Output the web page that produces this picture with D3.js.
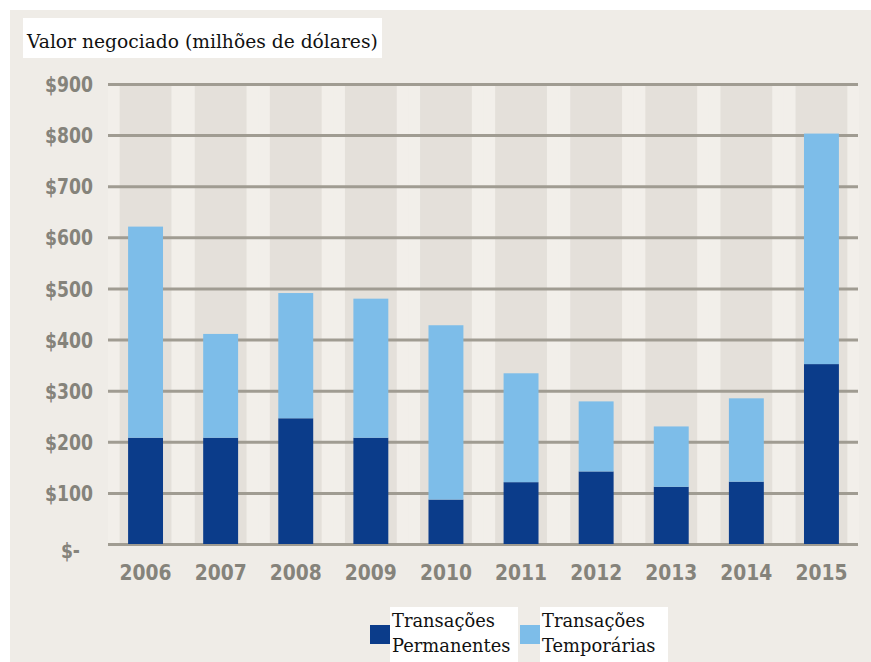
<!DOCTYPE html>
<html><head><meta charset="utf-8">
<script src="https://cdn.jsdelivr.net/npm/d3@7"></script>
<style>
body{margin:0;background:#fff;}
svg{display:block;}
</style></head>
<body>
<svg id="chart" width="871" height="662"></svg>
<script>
const years = ["2006","2007","2008","2009","2010","2011","2012","2013","2014","2015"];
const permanentes = [208, 208, 246, 208, 87, 121, 142, 112, 122, 352];
const temporarias = [413, 203, 245, 272, 341, 213, 137, 118, 163, 451];
const yTicks = [0,100,200,300,400,500,600,700,800,900];
const seriesNames = ["Transações\nPermanentes", "Transações\nTemporárias"];
const titleText = "Valor negociado (milhões de dólares)";

const colors = ["#0b3c8a", "#7dbde9"];
const svg = d3.select("#chart");

function fitWidth(sel, target){
  const w = sel.node().getComputedTextLength();
  const fs = parseFloat(sel.attr("font-size"));
  const nfs = fs*target/w;
  sel.attr("font-size", nfs.toFixed(2));
  return nfs;
}
function condense(sel, factor){
  sel.each(function(){
    const w = this.getComputedTextLength();
    d3.select(this).attr("textLength", (w*factor).toFixed(1)).attr("lengthAdjust", "spacingAndGlyphs");
  });
}

// background
svg.append("rect").attr("x",10).attr("y",10).attr("width",861).attr("height",652).attr("fill","#efece7");

const x = d3.scaleBand().domain(years).range([108, 859]).paddingInner(0).paddingOuter(0);
const xBar = d3.scaleBand().domain(years).range([108, 859]).paddingInner(0.535).paddingOuter(0.2675);
const xCol = d3.scaleBand().domain(years).range([108, 859]).paddingInner(0.31).paddingOuter(0.155);
const y = d3.scaleLinear().domain([0, 900]).range([544, 84]);

// column bands
svg.append("g").selectAll("rect").data(years).join("rect")
  .attr("x", d => x(d)).attr("width", x.bandwidth())
  .attr("y", y(900)+2).attr("height", y(0)-y(900)-2)
  .attr("fill", "#f2efea");
svg.append("g").selectAll("rect").data(years).join("rect")
  .attr("x", d => xCol(d)).attr("width", xCol.bandwidth())
  .attr("y", y(900)+2).attr("height", y(0)-y(900)-2)
  .attr("fill", "#e4e0da");

// gridlines + y labels
const yAxis = d3.axisLeft(y).tickValues(yTicks).tickSize(-(858-108)).tickFormat(d => d === 0 ? "$-" : "$" + d);
const gy = svg.append("g").attr("transform", "translate(108,0)").call(yAxis);
gy.select(".domain").remove();
gy.selectAll(".tick line").attr("stroke", "#a09c92").attr("stroke-width", 3);
gy.selectAll(".tick text")
  .attr("x", -15)
  .attr("font-family", "'DejaVu Sans',sans-serif")
  .attr("font-weight", "bold")
  .attr("font-size", 21)
  .attr("fill", "#85837b")
  .attr("dy", "0.36em");
gy.selectAll(".tick").filter(d => d === 0).select("text").attr("x", -28).attr("dy", "0.62em");
condense(gy.selectAll(".tick text"), 0.82);

// stacked bars
const stackData = years.map((yr, i) => ({year: yr, p: permanentes[i], t: temporarias[i]}));
const stack = d3.stack().keys(["p","t"])(stackData);
svg.append("g").selectAll("g").data(stack).join("g")
  .attr("fill", (d, i) => colors[i])
  .selectAll("rect").data(d => d).join("rect")
  .attr("x", d => xBar(d.data.year))
  .attr("width", xBar.bandwidth())
  .attr("y", d => y(d[1]))
  .attr("height", d => y(d[0]) - y(d[1]));

// x axis labels
const xAxis = d3.axisBottom(x).tickSize(0).tickPadding(0);
const gx = svg.append("g").attr("transform", "translate(0,544)").call(xAxis);
gx.select(".domain").remove();
gx.selectAll(".tick text")
  .attr("y", 36).attr("dy", 0)
  .attr("font-family", "'DejaVu Sans',sans-serif")
  .attr("font-weight", "bold")
  .attr("font-size", 22)
  .attr("fill", "#85837b");
condense(gx.selectAll(".tick text"), 0.85);

// title
svg.append("rect").attr("x", 23).attr("y", 18).attr("width", 359).attr("height", 40).attr("fill", "#fff");
const title = svg.append("text").attr("x", 27).attr("y", 48)
  .attr("font-family", "'DejaVu Serif',serif").attr("font-size", 18).attr("fill", "#111")
  .text(titleText);
fitWidth(title, 351);

// legend
const legX = [370, 520];
svg.append("g").selectAll("rect").data(legX).join("rect")
  .attr("x", d => d + 20).attr("y", 607).attr("width", 128).attr("height", 55).attr("fill", "#fff");
const lg = svg.append("g").selectAll("g").data(seriesNames).join("g")
  .attr("transform", (d, i) => `translate(${legX[i]},0)`);
lg.append("rect").attr("x", 0).attr("y", 625).attr("width", 20).attr("height", 19).attr("fill", (d, i) => colors[i]);
lg.each(function(d){
  const g = d3.select(this);
  d.split("\n").forEach((line, j) => {
    g.append("text").attr("x", 22).attr("y", 627 + j*25)
      .attr("font-family", "'DejaVu Serif',serif").attr("font-size", 15).attr("fill", "#111")
      .text(line);
  });
});
const fsLeg = fitWidth(d3.select(lg.nodes()[0]).select("text"), 103);
lg.selectAll("text").attr("font-size", fsLeg.toFixed(2));
</script>
</body></html>
